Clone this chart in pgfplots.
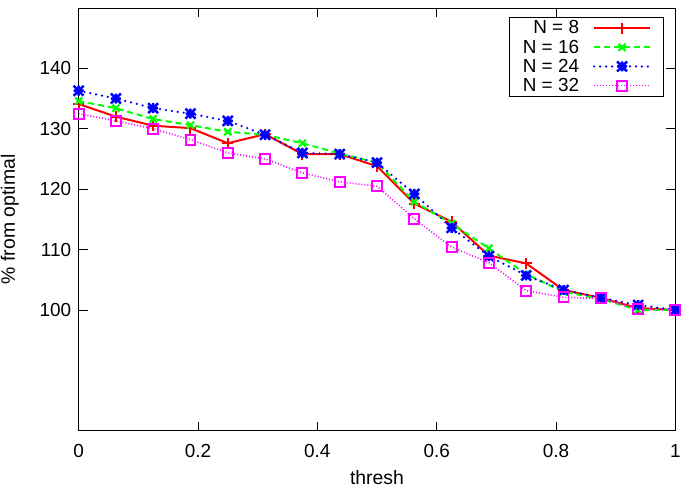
\documentclass[border=0pt]{standalone}
\usepackage{fontspec}
\setmainfont{Liberation Sans}
\usepackage{pgfplots}
\pgfplotsset{compat=1.18}
\definecolor{gred}{RGB}{255,0,0}
\definecolor{ggreen}{RGB}{0,255,0}
\definecolor{gblue}{RGB}{0,0,255}
\definecolor{gmag}{RGB}{255,0,255}
\pgfdeclareplotmark{gstar}{%
  \pgfpathmoveto{\pgfqpoint{-\pgfplotmarksize}{0pt}}\pgfpathlineto{\pgfqpoint{\pgfplotmarksize}{0pt}}%
  \pgfpathmoveto{\pgfqpoint{0pt}{-\pgfplotmarksize}}\pgfpathlineto{\pgfqpoint{0pt}{\pgfplotmarksize}}%
  \pgfpathmoveto{\pgfqpoint{-\pgfplotmarksize}{-\pgfplotmarksize}}\pgfpathlineto{\pgfqpoint{\pgfplotmarksize}{\pgfplotmarksize}}%
  \pgfpathmoveto{\pgfqpoint{-\pgfplotmarksize}{\pgfplotmarksize}}\pgfpathlineto{\pgfqpoint{\pgfplotmarksize}{-\pgfplotmarksize}}%
  \pgfusepathqstroke}
\begin{document}
\begin{tikzpicture}
\begin{axis}[
  scale only axis, width=600pt, height=425pt,
  xmin=0, xmax=1, ymin=80, ymax=150,
  xtick={0,0.2,0.4,0.6,0.8,1},
  ytick={100,110,120,130,140},
  tick align=inside, major tick length=9pt,
  tick style={black, line width=0.8pt},
  axis line style={line width=0.8pt},
  /pgf/number format/assume math mode=true,
  every tick label/.append style={font=\fontsize{19}{20}\selectfont},
  xticklabel style={yshift=-10pt},
  yticklabel style={xshift=-4pt},
  xlabel={thresh}, ylabel={\% from optimal},
  every axis x label/.style={at={(axis description cs:0.5,0)}, anchor=center, yshift=-47pt, overlay, font=\fontsize{19.5}{20}\selectfont},
  every axis y label/.style={at={(axis description cs:-0.1150,0.5)}, anchor=center, rotate=90, overlay, font=\fontsize{19.5}{20}\selectfont},
  legend plot pos=right,
  legend cell align=right,
  legend style={at={(axis description cs:1,1)}, anchor=north east, xshift=-12pt, yshift=-9pt,
    font=\fontsize{19}{19}\selectfont, draw=black, line width=0.8pt,
    row sep=0.5pt, column sep=12pt, inner xsep=12pt, inner ysep=1.5pt,
    nodes={inner sep=2pt}},
  legend image code/.code={\draw[#1, mark repeat=2, mark phase=2] plot coordinates {(0pt,0pt) (28pt,0pt) (56pt,0pt)};},
]
\addplot[gred, line width=2pt, mark=+, mark size=5.5pt, mark options={solid, line width=2pt}] coordinates {
(0,134.1) (0.0625,132.0) (0.125,130.5) (0.1875,130.1) (0.25,127.6) (0.3125,129.1)
(0.375,125.8) (0.4375,125.8) (0.5,123.8) (0.5625,117.6) (0.625,114.6) (0.6875,109.0)
(0.75,107.7) (0.8125,103.3) (0.875,102.0) (0.9375,100.3) (1,100.0)};
\addlegendentry{N = 8}
\addplot[ggreen, line width=2pt, dash pattern=on 6pt off 4pt, mark=x, mark size=5pt, mark options={solid, line width=2.2pt}] coordinates {
(0,134.6) (0.0625,133.4) (0.125,131.6) (0.1875,130.6) (0.25,129.5) (0.3125,129.0)
(0.375,127.6) (0.4375,125.9) (0.5,124.4) (0.5625,117.9) (0.625,114.3) (0.6875,110.2)
(0.75,105.9) (0.8125,103.0) (0.875,101.8) (0.9375,100.0) (1,100.0)};
\addlegendentry{N = 16}
\addplot[gblue, line width=2.5pt, line cap=round, dash pattern=on 0pt off 6pt, mark=gstar, mark size=5pt, mark options={solid, line width=2.5pt, line cap=butt}] coordinates {
(0,136.3) (0.0625,135.0) (0.125,133.4) (0.1875,132.5) (0.25,131.3) (0.3125,129.0)
(0.375,126.0) (0.4375,125.8) (0.5,124.4) (0.5625,119.2) (0.625,113.6) (0.6875,108.9)
(0.75,105.7) (0.8125,103.3) (0.875,102.0) (0.9375,100.8) (1,100.0)};
\addlegendentry{N = 24}
\addplot[gmag, line width=1.6pt, dash pattern=on 1pt off 2pt, mark=square, mark size=5pt, mark options={solid, line width=2pt}] coordinates {
(0,132.5) (0.0625,131.3) (0.125,130.0) (0.1875,128.2) (0.25,126.0) (0.3125,125.0)
(0.375,122.7) (0.4375,121.2) (0.5,120.5) (0.5625,115.1) (0.625,110.4) (0.6875,107.8)
(0.75,103.2) (0.8125,102.1) (0.875,101.9) (0.9375,100.1) (1,100.0)};
\addlegendentry{N = 32}
\end{axis}
\path[use as bounding box] (-79pt,-59pt) rectangle (605pt,433pt);
\end{tikzpicture}
\end{document}
